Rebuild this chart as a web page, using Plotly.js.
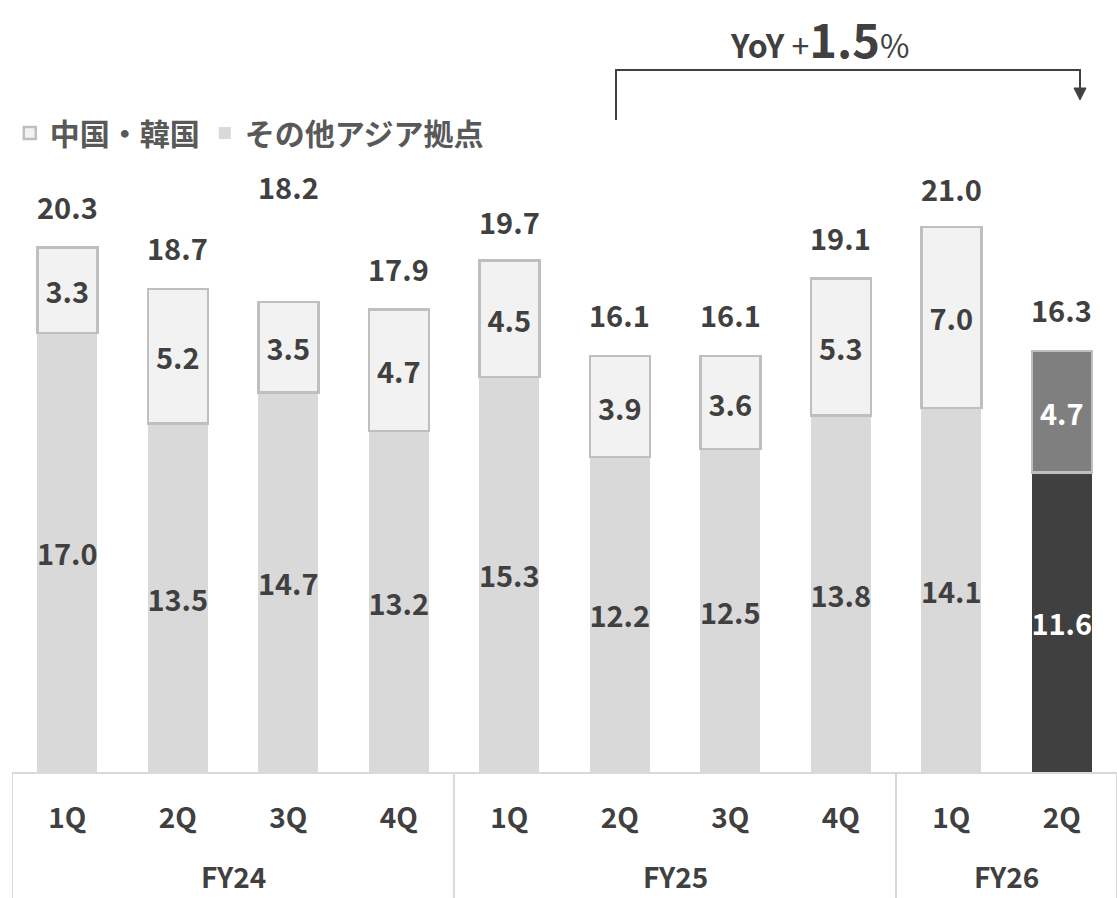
<!DOCTYPE html>
<html>
<head>
<meta charset="utf-8">
<script src="https://cdn.plot.ly/plotly-3.0.1.min.js"></script>
<style>
  html, body { margin: 0; padding: 0; background: #ffffff; }
  #chart { width: 1117px; height: 898px; }
</style>
</head>
<body>
<div id="chart"></div>
<script>
// Fiscal years and quarters
const fiscalYears = ['FY24', 'FY24', 'FY24', 'FY24', 'FY25', 'FY25', 'FY25', 'FY25', 'FY26', 'FY26'];
const quarters    = ['1Q', '2Q', '3Q', '4Q', '1Q', '2Q', '3Q', '4Q', '1Q', '2Q'];

// Segment values
const otherAsia   = [17.0, 13.5, 14.7, 13.2, 15.3, 12.2, 12.5, 13.8, 14.1, 11.6];
const chinaKorea  = [3.3, 5.2, 3.5, 4.7, 4.5, 3.9, 3.6, 5.3, 7.0, 4.7];
const totals      = [20.3, 18.7, 18.2, 17.9, 19.7, 16.1, 16.1, 19.1, 21.0, 16.3];

const seriesNames = ['その他アジア拠点', '中国・韓国'];
const yoyRate = '1.5';

const FONT = '"Noto Sans CJK JP", "Noto Sans", sans-serif';
const TEXT = '#404040';
const GRID = '#d9d9d9';
const last = quarters.length - 1;

// One category per quarter; the tick shows only the quarter
const cats = quarters.map((q, i) => fiscalYears[i] + ' ' + q);

// The latest quarter is highlighted in dark tones
const otherColors = otherAsia.map((v, i) => i === last ? '#404040' : '#d9d9d9');
const ckColors    = chinaKorea.map((v, i) => i === last ? '#7f7f7f' : '#f2f2f2');
const otherText   = otherAsia.map((v, i) => i === last ? '#ffffff' : TEXT);
const ckText      = chinaKorea.map((v, i) => i === last ? '#ffffff' : TEXT);

const LABEL_SIZE = 29;

const traces = [
  {
    type: 'bar', name: seriesNames[0], x: cats, y: otherAsia,
    marker: { color: otherColors, line: { width: 0 } },
    text: otherAsia.map(v => v.toFixed(1)),
    textposition: 'inside', insidetextanchor: 'middle', constraintext: 'none', textangle: 0,
    textfont: { family: FONT, size: LABEL_SIZE, weight: 'bold', color: otherText },
    hoverinfo: 'skip'
  },
  {
    type: 'bar', name: seriesNames[1], x: cats, y: chinaKorea,
    marker: { color: ckColors, line: { width: 2.5, color: '#bfbfbf' } },
    text: chinaKorea.map(v => v.toFixed(1)),
    textposition: 'inside', insidetextanchor: 'middle', constraintext: 'none', textangle: 0,
    textfont: { family: FONT, size: LABEL_SIZE, weight: 'bold', color: ckText },
    hoverinfo: 'skip'
  }
];

// Total labels above each stack; 3Q FY24 sits higher
const extraLift = { 2: 74 };
const annotations = totals.map((t, i) => ({
  x: cats[i], y: t, xref: 'x', yref: 'y',
  text: t.toFixed(1), showarrow: false,
  yanchor: 'middle', yshift: 42 + (extraLift[i] || 0),
  font: { family: FONT, size: LABEL_SIZE, weight: 'bold', color: TEXT }
}));

// Fiscal-year group labels and the dividers between groups
const BOTTOM = -126 / 772;
const shapes = [];
const groups = [];
fiscalYears.forEach((fy, i) => {
  if (!groups.length || groups[groups.length - 1].name !== fy) groups.push({ name: fy, first: i, last: i });
  else groups[groups.length - 1].last = i;
});
groups.forEach((g, k) => {
  annotations.push({
    x: (g.first + g.last) / 2, xref: 'x', y: BOTTOM, yref: 'paper',
    yanchor: 'middle', yshift: 22, showarrow: false, text: g.name,
    font: { family: FONT, size: 28, weight: 'bold', color: TEXT }
  });
  const edges = k === 0 ? [g.first - 0.5, g.last + 0.5] : [g.last + 0.5];
  edges.forEach(e => shapes.push({
    type: 'line', xref: 'x', yref: 'paper', x0: e, x1: e, y0: 0, y1: BOTTOM,
    line: { color: GRID, width: 2 }
  }));
});

// YoY headline
annotations.push({
  xref: 'paper', yref: 'paper', x: (820 - 12) / 1105, xanchor: 'center', y: 1.0,
  yanchor: 'top', yshift: -1, showarrow: false,
  text: '<b>YoY</b> +<b><span style="font-size:47px">' + yoyRate + '</span></b>%',
  font: { family: FONT, size: 32, color: TEXT }
});

// Bracket from FY25 2Q to FY26 2Q with a down arrow
const xl = (616 - 12) / 1105, xr = (1080 - 12) / 1105;
const yLow = (772 - 120) / 772, yTop = (772 - 70) / 772, yTip = (772 - 100) / 772;
const ah = 12 / 772, aw = 6 / 1105;
shapes.push(
  {
    type: 'path', xref: 'paper', yref: 'paper',
    path: `M ${xl} ${yLow} L ${xl} ${yTop} L ${xr} ${yTop} L ${xr} ${yTip + ah}`,
    line: { color: TEXT, width: 2 }
  },
  {
    type: 'path', xref: 'paper', yref: 'paper',
    path: `M ${xr - aw} ${yTip + ah} L ${xr + aw} ${yTip + ah} L ${xr} ${yTip} Z`,
    fillcolor: TEXT, line: { color: TEXT, width: 1 }
  }
);

const layout = {
  width: 1117, height: 898,
  margin: { l: 12, r: 0, t: 0, b: 126 },
  paper_bgcolor: '#ffffff', plot_bgcolor: '#ffffff',
  barmode: 'stack', bargap: 0.457,
  showlegend: true,
  legend: {
    orientation: 'h', traceorder: 'reversed',
    x: -0.002, xanchor: 'left', y: (772 - 133) / 772, yanchor: 'middle',
    font: { family: FONT, size: 30, weight: 'bold', color: '#595959' },
    itemwidth: 30, bgcolor: 'rgba(0,0,0,0)'
  },
  xaxis: {
    type: 'category', range: [-0.5, cats.length - 0.5],
    tickvals: cats, ticktext: quarters,
    showline: true, linecolor: GRID, linewidth: 2,
    ticks: '', showgrid: false, zeroline: false,
    ticklabelstandoff: 20,
    tickfont: { family: FONT, size: 28, weight: 'bold', color: TEXT }
  },
  yaxis: {
    range: [0, 29.89], visible: false, showgrid: false, zeroline: false
  },
  annotations: annotations,
  shapes: shapes,
  font: { family: FONT, color: TEXT }
};

Plotly.newPlot('chart', traces, layout, { displayModeBar: false, staticPlot: true });
</script>
</body>
</html>
